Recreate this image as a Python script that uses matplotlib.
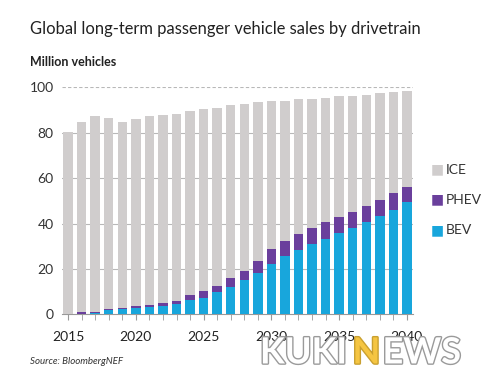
import matplotlib.pyplot as plt
import matplotlib.patheffects as pe
import numpy as np

years = list(range(2015, 2041))
total = [80.4, 84.8, 87.2, 86.5, 84.8, 85.9, 87.2, 87.9, 88.4, 89.6, 90.3, 90.9, 92.1,
         92.8, 93.4, 94.0, 94.0, 94.9, 94.9, 95.5, 96.1, 96.1, 96.7, 97.3, 97.8, 98.5]
bev_phev = [0.1, 1.0, 1.2, 2.2, 2.8, 3.7, 4.3, 4.9, 6.0, 8.4, 10.3, 12.6, 15.9,
            19.2, 23.6, 28.7, 32.4, 35.5, 38.0, 40.5, 43.1, 45.3, 47.8, 50.5, 53.4, 56.3]
bev = [0.05, 0.3, 0.7, 1.7, 2.2, 2.8, 3.4, 3.8, 4.5, 6.2, 7.2, 9.7, 12.1,
       15.3, 18.4, 22.1, 25.7, 28.4, 30.9, 33.2, 35.7, 38.2, 40.5, 43.4, 46.1, 49.3]

bev = np.array(bev)
phev = np.array(bev_phev) - bev
ice = np.array(total) - np.array(bev_phev)

c_ice = '#d0cdcd'
c_phev = '#6a3f9c'
c_bev = '#18a6dc'

plt.rcParams['font.family'] = ['Lato', 'DejaVu Sans']

fig = plt.figure(figsize=(5, 3.9), dpi=100)
ax = fig.add_axes([0.124, 0.194, 0.702, 0.582])

w = 0.7
ax.bar(years, bev, width=w, color=c_bev, zorder=3)
ax.bar(years, phev, width=w, bottom=bev, color=c_phev, zorder=3)
ax.bar(years, ice, width=w, bottom=bev + phev, color=c_ice, zorder=3)

ax.set_xlim(2014.55, 2040.45)
ax.set_ylim(0, 100)
ax.set_yticks([0, 20, 40, 60, 80, 100])
ax.set_xticks([2015, 2020, 2025, 2030, 2035, 2040])
ax.set_xticks(years, minor=True)
for y in [20, 40, 60, 80]:
    ax.axhline(y, color='#b8b8b8', lw=0.8, zorder=1)
ax.axhline(100, color='#b8b8b8', lw=0.8, ls=(0, (3, 2)), zorder=1)

for s in ['top', 'right', 'left']:
    ax.spines[s].set_visible(False)
ax.spines['bottom'].set_color('#999999')
ax.spines['bottom'].set_linewidth(0.8)
ax.tick_params(axis='y', length=0, labelsize=10, colors='#333333', pad=6)
ax.tick_params(axis='x', which='both', length=4, color='#999999', labelsize=10,
               colors='#222222', pad=8)

# legend
lx = 0.862
for label, col, yy in [('ICE', c_ice, 0.565), ('PHEV', c_phev, 0.488), ('BEV', c_bev, 0.41)]:
    fig.text(lx, yy, '\u25A0', color=col, fontsize=10, va='center', ha='left',
             family='DejaVu Sans')
    fig.text(lx + 0.03, yy, label, color='#333333', fontsize=10, va='center', ha='left')

fig.text(0.06, 0.925, 'Global long-term passenger vehicle sales by drivetrain',
         fontsize=11.9, color='#222222', va='center')
fig.text(0.06, 0.84, 'Million vehicles', fontsize=9, color='#222222',
         fontweight='bold', va='center')
fig.text(0.06, 0.072, 'Source: BloombergNEF', fontsize=7, color='#333333',
         style='italic', va='center')

# watermark
wm = fig.text(0.52, 0.095, 'KUKI', fontsize=26, fontweight='bold', color='white',
              va='center', ha='left')
wm.set_path_effects([pe.withStroke(linewidth=2, foreground='#9a9a9a')])
wm2 = fig.text(0.705, 0.095, 'N', fontsize=26, fontweight='bold', color='#f5c542',
               va='center', ha='left')
wm2.set_path_effects([pe.withStroke(linewidth=2, foreground='#c9a030')])
wm3 = fig.text(0.765, 0.095, 'EWS', fontsize=26, fontweight='bold', color='white',
               va='center', ha='left')
wm3.set_path_effects([pe.withStroke(linewidth=2, foreground='#9a9a9a')])

fig.savefig('out.png', dpi=100, facecolor='white')
